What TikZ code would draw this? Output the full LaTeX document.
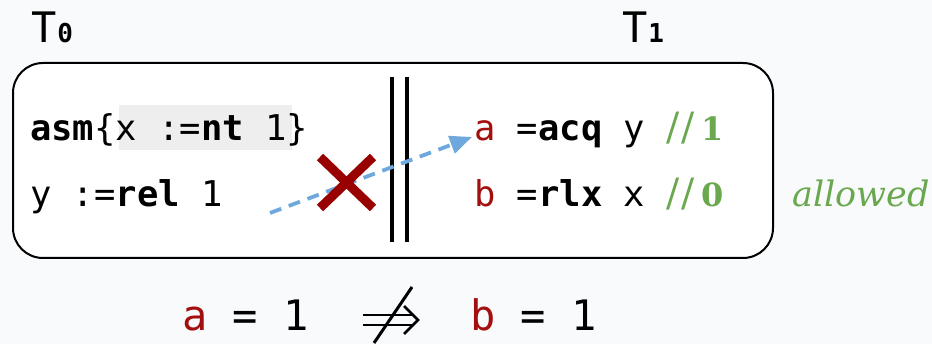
\documentclass[tikz,border=0pt]{standalone}
\usepackage{fontspec}
\setmonofont{DejaVu Sans Mono}
\newfontfamily\serifgreen{DejaVu Serif}
\usetikzlibrary{arrows.meta}
\definecolor{bgc}{HTML}{F9FAFC}
\definecolor{varred}{HTML}{A30F0F}
\definecolor{cgreen}{HTML}{6AA84F}
\definecolor{cblue}{HTML}{6FA8DC}
\definecolor{xred}{HTML}{990000}
\definecolor{hlgray}{HTML}{EEEEEE}
\newcommand\cmtstyle{\color{cgreen}\serifgreen\fontsize{39}{40}\selectfont}
\newcommand\cmtnum[1]{{\fontsize{32}{34}\selectfont\bfseries #1}}
\newcommand\thrsub{\ttfamily\bfseries\fontsize{26}{28}\selectfont}
\begin{document}
\begin{tikzpicture}[x=1pt,y=-1pt,
  code/.style={anchor=base west, inner sep=0pt, font=\ttfamily\fontsize{35.5}{40}\selectfont},
  bigcode/.style={anchor=base west, inner sep=0pt, font=\ttfamily\fontsize{42}{46}\selectfont},
  thread/.style={anchor=base west, inner sep=0pt, font=\ttfamily\fontsize{42}{46}\selectfont},
  bar/.style={line width=3.5pt},
  symline/.style={line width=2.5pt}]
\fill[bgc] (0,0) rectangle (932,344);
\useasboundingbox (0,0) rectangle (932,344);
% thread box
\node[draw, line width=2pt, rounded corners=30pt, fill=white,
      minimum width=760pt, minimum height=195pt, inner sep=0pt,
      anchor=north west] (box) at (12,62) {};
% thread labels
\node[thread] (t0) at (31,43) {T\kern1pt{\thrsub 0}};
\node[thread] (t1) at (622,43) {T\kern1pt{\thrsub 1}};
% separator
\draw[bar] (392,77) -- (392,242);
\draw[bar] (407,77) -- (407,242);
% highlight
\fill[hlgray] (119,105) rectangle (292,150);
% left thread
\node[code] (l1) at (30,141) {\textbf{asm}\{x :=\textbf{nt} 1\}};
\node[code] (l2) at (30,207) {y :=\textbf{rel} 1};
% right thread
\node[code] (r1) at (474,141) {\textcolor{varred}{a} =\textbf{acq} y {\cmtstyle /\kern2pt/\kern7pt\cmtnum{1}}};
\node[code] (r2) at (474,207) {\textcolor{varred}{b} =\textbf{rlx} x {\cmtstyle /\kern2pt/\kern7pt\cmtnum{0}}};
\node[anchor=base west, inner sep=0pt, text=cgreen,
      font=\serifgreen\itshape\fontsize{35}{40}\selectfont] (allow) at (792,207) {allowed};
% forbidden edge
\coordinate (aS) at (270,213);
\coordinate (aE) at (472,137);
\draw[cblue, line width=3.8pt, dash pattern=on 12pt off 8pt,
      -{Triangle[length=22pt,width=18pt]}] (aS) -- (aE);
\draw[xred, line width=9pt] (320,157) -- (373,208) (320,208) -- (373,157);
% bottom statement
\node[bigcode] (eq1) at (182,331) {\textcolor{varred}{a} = 1};
\node[bigcode] (eq2) at (470,331) {\textcolor{varred}{b} = 1};
\draw[symline] (363,315) -- (414,315) (363,325) -- (414,325);
\draw[symline] (404,306) -- (418,320) -- (404,334);
\draw[line width=3pt] (374,343) -- (412,287);
\end{tikzpicture}
\end{document}
